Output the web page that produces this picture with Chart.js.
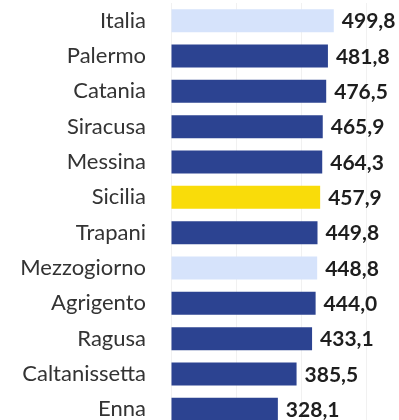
<!DOCTYPE html>
<html>
<head>
<meta charset="utf-8">
<script src="https://cdn.jsdelivr.net/npm/chart.js@4"></script>
<style>
  html, body { margin: 0; padding: 0; background: #fff; overflow: hidden; }
  #wrap { width: 399px; height: 427px; }
</style>
</head>
<body>
<div id="wrap"><canvas id="chart" width="399" height="427"></canvas></div>
<script>
const areas = ["Italia", "Palermo", "Catania", "Siracusa", "Messina", "Sicilia",
    "Trapani", "Mezzogiorno", "Agrigento", "Ragusa", "Caltanissetta", "Enna"];
const values = [499.8, 481.8, 476.5, 465.9, 464.3, 457.9, 449.8, 448.8, 444.0, 433.1, 385.5, 328.1];

const DARK = "#2c4391";
const LIGHT = "#d6e3fb";
const YELLOW = "#f9dc0a";

function barColor(name) {
    if (name === "Italia" || name === "Mezzogiorno") return LIGHT;
    if (name === "Sicilia") return YELLOW;
    return DARK;
}

// writes each value at the end of its bar, decimal comma
const valueLabels = {
    id: "valueLabels",
    afterDatasetsDraw(chart) {
        const ctx = chart.ctx;
        const meta = chart.getDatasetMeta(0);
        ctx.save();
        ctx.font = "bold 21px Lato";
        ctx.fillStyle = "#1e1e1e";
        ctx.textAlign = "left";
        ctx.textBaseline = "middle";
        meta.data.forEach((bar, i) => {
            const txt = values[i].toFixed(1).replace(".", ",");
            ctx.fillText(txt, bar.x + 8, bar.y + 1);
        });
        ctx.restore();
    }
};

new Chart(document.getElementById("chart"), {
    type: "bar",
    data: {
        labels: areas,
        datasets: [{
            data: values,
            backgroundColor: areas.map(barColor),
            borderWidth: 0,
            barPercentage: 0.65,
            categoryPercentage: 1
        }]
    },
    options: {
        indexAxis: "y",
        responsive: false,
        animation: false,
        layout: { padding: { top: 3, right: 0, bottom: 0, left: 0 } },
        plugins: {
            legend: { display: false },
            tooltip: { enabled: false }
        },
        scales: {
            x: {
                min: 0,
                max: 700,
                display: true,
                border: { display: false },
                grid: { color: "#f1f1f1", drawTicks: false },
                ticks: { display: false, stepSize: 200 }
            },
            y: {
                border: { display: false },
                grid: { display: false, drawTicks: false },
                ticks: {
                    padding: 25,
                    color: "#333333",
                    font: { family: "Lato", size: 22 }
                },
                afterFit(scale) {
                    scale.width = 171;
                    scale.paddingTop = 0;
                    scale.paddingBottom = 0;
                }
            }
        }
    },
    plugins: [valueLabels]
});
</script>
</body>
</html>
